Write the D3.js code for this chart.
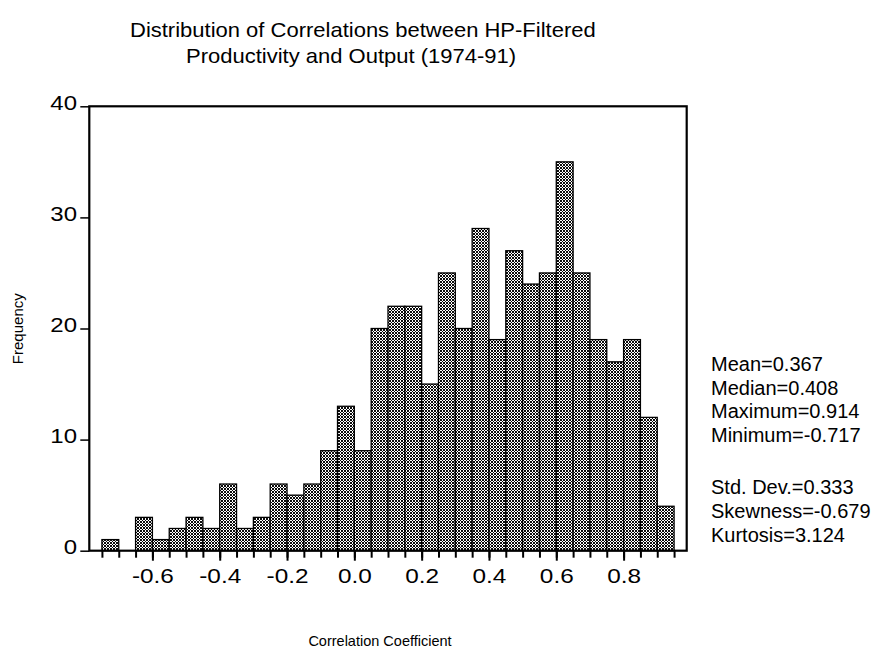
<!DOCTYPE html>
<html>
<head>
<meta charset="utf-8">
<script src="https://cdn.jsdelivr.net/npm/d3@7"></script>
<style>
  body { margin: 0; background: #fff; }
  svg { display: block; font-family: "Liberation Sans", Arial, sans-serif; }
</style>
</head>
<body>
<script>
// histogram data (bins of width 0.05 starting at -0.75)
const binStart = -0.75
const binWidth = 0.05
const counts = [1, 0, 3, 1, 2, 3, 2, 6, 2, 3, 6, 5, 6, 9, 13, 9, 20, 22, 22, 15,
                25, 20, 29, 19, 27, 24, 25, 35, 25, 19, 17, 19, 12, 4]
const yTicks = [0, 10, 20, 30, 40]
const xLabels = ["-0.6", "-0.4", "-0.2", "0.0", "0.2", "0.4", "0.6", "0.8"]
const titleLines = ["Distribution of Correlations between HP-Filtered", "Productivity and Output (1974-91)"]
const statsTop = ["Mean=0.367", "Median=0.408", "Maximum=0.914", "Minimum=-0.717"]
const statsBottom = ["Std. Dev.=0.333", "Skewness=-0.679", "Kurtosis=3.124"]

const w = 875
const h = 648
const pLeft = 89.3, pRight = 686.7, pTop = 106.3, pBottom = 550.7

const bins = counts.map((c, i) => ({x0: binStart + i * binWidth, x1: binStart + (i + 1) * binWidth, n: c}))

const x = d3.scaleLinear().domain([-0.7875, 0.9875]).range([pLeft, pRight])
const y = d3.scaleLinear().domain([0, 40]).range([pBottom, pTop])

const svg = d3.select("body").append("svg")
  .attr("width", w)
  .attr("height", h)

// crosshatch fill
const pat = svg.append("defs").append("pattern")
  .attr("id", "hatch")
  .attr("patternUnits", "userSpaceOnUse")
  .attr("width", 3)
  .attr("height", 3)
pat.append("rect").attr("width", 3).attr("height", 3).attr("fill", "#fff")
pat.append("path")
  .attr("d", "M-1,-1L4,4M4,-1L-1,4")
  .attr("stroke", "#000")
  .attr("stroke-width", 0.95)

// bars
svg.selectAll("rect.bar")
  .data(bins.filter(d => d.n > 0))
  .enter()
  .append("rect")
  .attr("class", "bar")
  .attr("x", d => x(d.x0))
  .attr("width", d => x(d.x1) - x(d.x0))
  .attr("y", d => y(d.n))
  .attr("height", d => y(0) - y(d.n))
  .attr("fill", "url(#hatch)")
  .attr("stroke", "#000")
  .attr("stroke-width", 1.3)

// frame
svg.append("rect")
  .attr("x", pLeft)
  .attr("y", pTop)
  .attr("width", pRight - pLeft)
  .attr("height", pBottom - pTop)
  .attr("fill", "none")
  .attr("stroke", "#000")
  .attr("stroke-width", 2.2)

// y axis
const yAxis = svg.append("g")
  .attr("transform", `translate(${pLeft},0)`)
  .call(d3.axisLeft(y).tickValues(yTicks).tickSize(9).tickFormat(d3.format("d")))
yAxis.select(".domain").remove()
yAxis.selectAll(".tick line").attr("stroke-width", 1.5)
yAxis.selectAll(".tick text")
  .attr("font-size", 20.5)
  .attr("fill", "#000")
  .attr("x", -10.5)
  .attr("dy", "0.15em")
  .attr("transform", "scale(1.17,1)")

// x axis minor ticks at bin edges
const edges = bins.map(d => d.x0).concat([bins[bins.length - 1].x1])
const xMinor = svg.append("g")
  .attr("transform", `translate(0,${pBottom})`)
  .call(d3.axisBottom(x).tickValues(edges).tickSize(7).tickFormat(""))
xMinor.select(".domain").remove()
xMinor.selectAll(".tick line").attr("stroke-width", 2)

// x axis major ticks with labels
const xMajor = svg.append("g")
  .attr("transform", `translate(0,${pBottom})`)
  .call(d3.axisBottom(x).tickValues(xLabels.map(Number)).tickSize(10).tickFormat((d, i) => xLabels[i]))
xMajor.select(".domain").remove()
xMajor.selectAll(".tick line").attr("stroke-width", 2)
xMajor.selectAll(".tick text")
  .attr("font-size", 21)
  .attr("fill", "#000")
  .attr("y", 32)
  .attr("dy", 0)
  .attr("transform", "scale(1.16,1)")

// title
svg.append("text")
  .attr("transform", "translate(130,36.7) scale(1.1,1)")
  .attr("font-size", 20)
  .text(titleLines[0])
svg.append("text")
  .attr("transform", "translate(186,63.3) scale(1.1,1)")
  .attr("font-size", 20)
  .text(titleLines[1])

// axis titles
svg.append("text")
  .attr("transform", "translate(23,328.7) rotate(-90)")
  .attr("text-anchor", "middle")
  .attr("font-size", 15)
  .text("Frequency")
svg.append("text")
  .attr("x", 380)
  .attr("y", 646)
  .attr("text-anchor", "middle")
  .attr("font-size", 14.5)
  .text("Correlation Coefficient")

// stats block
svg.selectAll("text.s1")
  .data(statsTop)
  .enter()
  .append("text")
  .attr("class", "s1")
  .attr("x", 711)
  .attr("y", (d, i) => 371 + i * 23.7)
  .attr("font-size", 20)
  .text(d => d)
svg.selectAll("text.s2")
  .data(statsBottom)
  .enter()
  .append("text")
  .attr("class", "s2")
  .attr("x", 711)
  .attr("y", (d, i) => 494 + i * 23.9)
  .attr("font-size", 20)
  .text(d => d)
</script>
</body>
</html>
